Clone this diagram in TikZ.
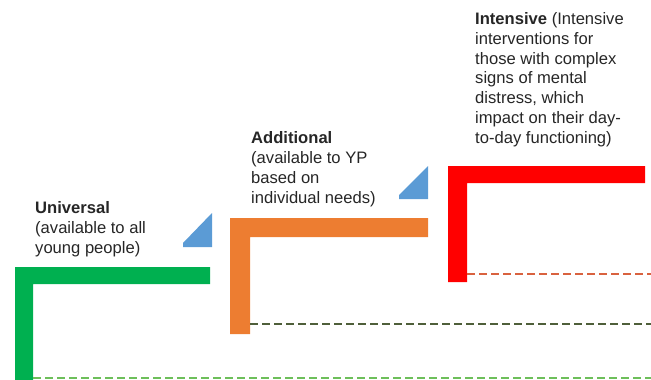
\documentclass[tikz,border=0pt]{standalone}
\usepackage{fontspec}
\setmainfont{Liberation Sans}
\definecolor{lgreen}{HTML}{00B050}
\definecolor{lorange}{HTML}{ED7D31}
\definecolor{lred}{HTML}{FF0000}
\definecolor{lblue}{HTML}{5B9BD5}
\definecolor{dred}{HTML}{D9623F}
\definecolor{dolive}{HTML}{4F5F3A}
\definecolor{dgreen}{HTML}{6DBF5A}
\definecolor{txt}{HTML}{262626}
\tikzset{
  lbar/.style={fill=#1, draw=none},
  tri/.style={fill=lblue, draw=none},
  dline/.style={draw=#1, line width=2.5pt, dash pattern=on 8pt off 4pt},
  lab/.style={anchor=base west, inner sep=0pt, align=left, text=txt,
    font=\fontsize{16.6}{19.7}\selectfont},
}
\begin{document}
\begin{tikzpicture}[x=1pt,y=-1pt]
\useasboundingbox (0,0) rectangle (651,380);
% L-shaped bars
\path[lbar=lgreen] (15,267) -- (210,267) -- (210,284) -- (33,284) -- (33,380) -- (15,380) -- cycle;
\path[lbar=lorange] (230,218) -- (428,218) -- (428,237) -- (250,237) -- (250,334) -- (230,334) -- cycle;
\path[lbar=lred] (448,166) -- (645,166) -- (645,183) -- (467,183) -- (467,282) -- (448,282) -- cycle;
% triangles
\path[tri] (183,247) -- (183,243) -- (212,213) -- (212,247) -- cycle;
\path[tri] (399,199) -- (399,195) -- (428,166) -- (428,199) -- cycle;
% dashed lines
\coordinate (g1) at (33,378);
\coordinate (g2) at (651,378);
\coordinate (o1) at (250,324);
\coordinate (o2) at (651,324);
\coordinate (r1) at (467,274);
\coordinate (r2) at (651,274);
\draw[dline=dgreen] (g1) -- (g2);
\draw[dline=dolive] (o1) -- (o2);
\draw[dline=dred] (r1) -- (r2);
% labels (anchored at the baseline of the last line)
\node[lab] (univ) at (35,253) {\textbf{Universal}\\(available to all\\young people)};
\node[lab] (addl) at (251,203) {\textbf{Additional}\\(available to YP\\based on\\individual needs)};
\node[lab] (intens) at (475,143) {\textbf{Intensive} (Intensive\\interventions for\\those with complex\\signs of mental\\distress, which\\impact on their day-\\to-day functioning)};
\end{tikzpicture}
\end{document}
